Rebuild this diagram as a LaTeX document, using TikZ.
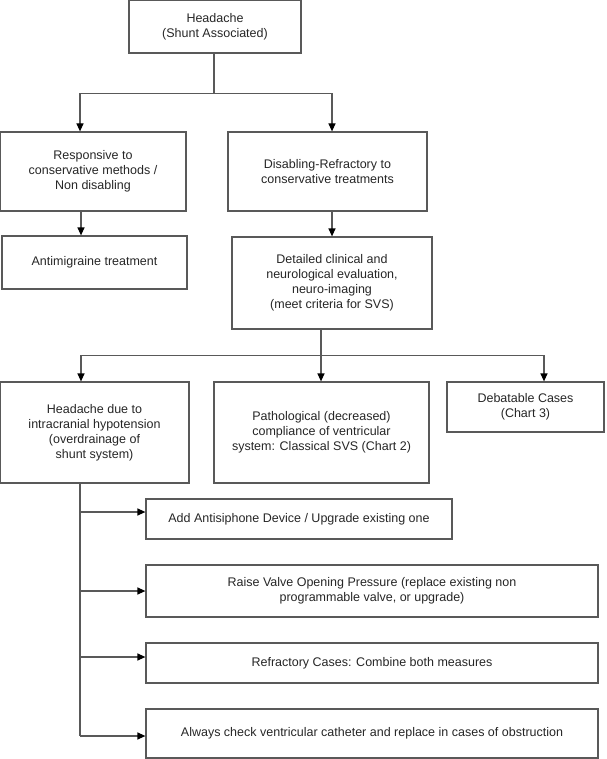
\documentclass[tikz,border=0pt]{standalone}
\usepackage{fontspec}
\setmainfont{Liberation Sans}
\usetikzlibrary{arrows.meta}

\tikzset{
  box/.style={draw=black!65, line width=1.2pt, align=center, inner sep=0pt,
    font=\fontsize{12.5}{15}\selectfont, text=black!85},
  line/.style={draw=black!65, line width=1.2pt},
  arr/.style={line, -{Triangle[width=7pt,length=8pt,color=black]}}
}

\begin{document}
\begin{tikzpicture}[x=1pt, y=-1pt]
  \useasboundingbox (0,0) rectangle (606,759);

  % boxes
  \node[box, minimum width=172pt, minimum height=53pt] (head) at (215,26.5) {Headache\\(Shunt Associated)};
  \node[box, minimum width=186pt, minimum height=79pt] (resp) at (93,171.5) {Responsive to\\conservative methods /\\Non disabling};
  \node[box, minimum width=199pt, minimum height=79pt] (disab) at (327.5,171.5) {Disabling-Refractory to\\conservative treatments};
  \node[box, minimum width=185pt, minimum height=53pt] (antim) at (94.5,262.5) {Antimigraine treatment};
  \node[box, minimum width=200pt, minimum height=92pt] (detail) at (332,283) {Detailed clinical and\\neurological evaluation,\\neuro-imaging\\(meet criteria for SVS)};
  \node[box, minimum width=189pt, minimum height=101pt] (hypo) at (94.5,432.5) {Headache due to\\intracranial hypotension\\(overdrainage of\\shunt system)};
  \node[box, minimum width=215pt, minimum height=101pt] (patho) at (321.5,432.5) {Pathological (decreased)\\compliance of ventricular\\system: Classical SVS (Chart 2)};
  \node[box, minimum width=157pt, minimum height=50pt] (debat) at (525.5,407) {Debatable Cases\\(Chart 3)};
  \node[box, minimum width=306pt, minimum height=40pt] (asp) at (299,519) {Add Antisiphone Device / Upgrade existing one};
  \node[box, minimum width=452pt, minimum height=52pt] (valve) at (372,591) {Raise Valve Opening Pressure (replace existing non\\programmable valve, or upgrade)};
  \node[box, minimum width=452pt, minimum height=40pt] (both) at (372,663) {Refractory Cases: Combine both measures};
  \node[box, minimum width=452pt, minimum height=49pt] (check) at (372,733.5) {Always check ventricular catheter and replace in cases of obstruction};

  % connectors
  \draw[line] ([xshift=-1pt]head.south) -- ++(0,40) coordinate (j1);
  \draw[arr] (j1) -| ([xshift=-13pt]resp.north);
  \draw[arr] (j1) -| ([xshift=4.5pt]disab.north);
  \draw[arr] ([xshift=-12pt]resp.south) -- ([xshift=-12pt]resp.south |- antim.north);
  \draw[arr] (disab.south -| detail.north) -- (detail.north);
  \draw[line] ([xshift=-11pt]detail.south) -- ++(0,26) coordinate (j2);
  \draw[arr] (j2) -| ([xshift=-13.5pt]hypo.north);
  \draw[arr] (j2) -- (j2 |- patho.north);
  \draw[arr] (j2) -| ([xshift=18.5pt]debat.north);
  \coordinate (t0) at ([xshift=-14.5pt]hypo.south);
  \draw[line] (t0) -- ([yshift=-2.5pt]t0 |- check.west);
  \foreach \b/\d in {asp/7, valve/0, both/6, check/-2.5}
    \draw[arr] ([yshift=\d pt]t0 |- \b.west) -- ([yshift=\d pt]\b.west);
\end{tikzpicture}
\end{document}
